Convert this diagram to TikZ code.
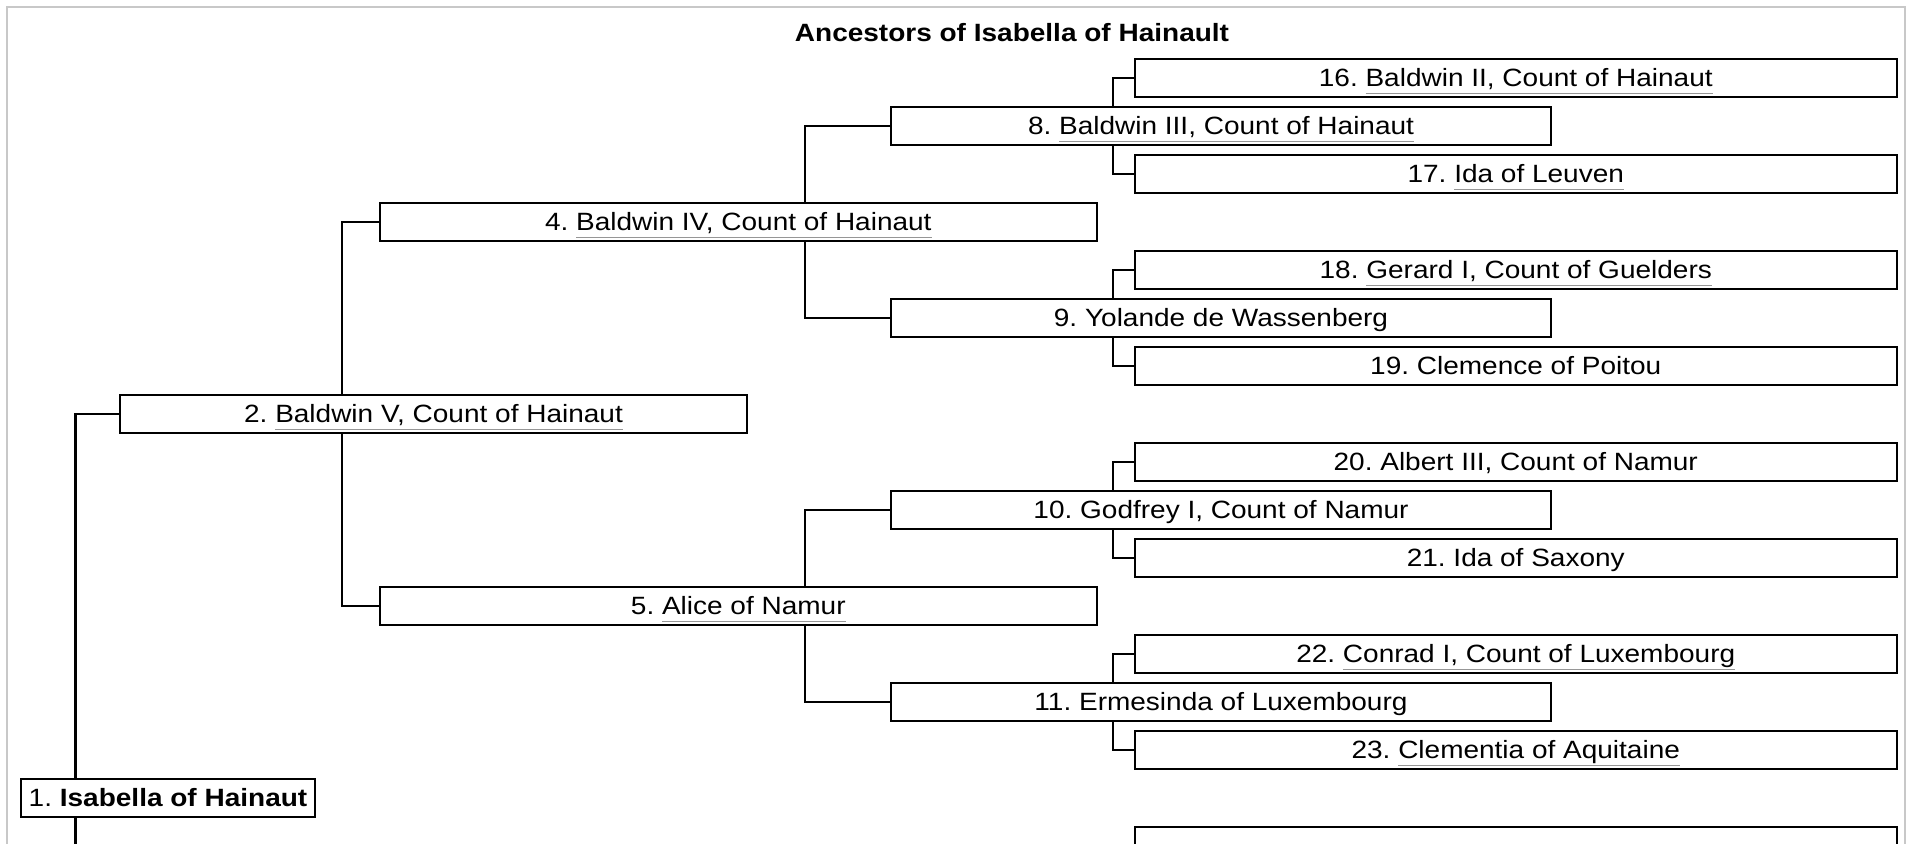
\documentclass[tikz,border=0pt]{standalone}
\usepackage{fontspec}
\setmainfont[FakeStretch=1.12]{Liberation Sans}
\frenchspacing

\definecolor{framegray}{RGB}{200,200,200}
\definecolor{linkgray}{RGB}{150,150,150}
\newcommand{\lnk}[1]{\setbox0=\hbox{#1}\rlap{\color{linkgray}\rule[-3.75pt]{\wd0}{0.75pt}}\box0}

\tikzset{
  pbox/.style={draw, line width=1.1pt, fill=white, inner sep=0pt, minimum height=19pt,
    text height=8.95pt, text depth=0pt, font=\fontsize{12.5}{15}\selectfont},
  gen1/.style={pbox, minimum width=313.5pt},
  gen2/.style={pbox, minimum width=358.7pt},
  gen3/.style={pbox, minimum width=330pt},
  gen4/.style={pbox, minimum width=381pt},
  link/.style={draw, line width=1.1pt},
}

\begin{document}
\begin{tikzpicture}[x=0.5pt,y=-0.5pt]
\useasboundingbox (0,0) rectangle (1907,844);
\clip (0,0) rectangle (1907,844);
\draw[framegray, line width=1pt] (7,7) rectangle (1905,1000);

\node[font=\bfseries\fontsize{12.5}{15}\selectfont, inner sep=0pt, text height=8.95pt, text depth=0pt] (title) at (1012,32.5) {Ancestors of Isabella of Hainault};

% where the lines turn
\coordinate (s1) at (75.5,798);
\coordinate (s2) at (341.6,414);
\coordinate (s4) at (804.6,222);
\coordinate (s5) at (804.6,606);
\coordinate (s8) at (1113.3,126);
\coordinate (s9) at (1113.3,318);
\coordinate (s10) at (1113.3,510);
\coordinate (s11) at (1113.3,702);
\coordinate (p3stub) at (75.5,900);

\node[pbox, minimum width=147pt] (p1) at (168,798) {1. \textbf{Isabella of Hainaut}};
\node[gen1] (p2) at (433.5,414) {2. \lnk{Baldwin V, Count of Hainaut}};

\node[gen2] (p4) at (738.3,222) {4. \lnk{Baldwin IV, Count of Hainaut}};
\node[gen2] (p5) at (738.3,606) {5. \lnk{Alice of Namur}};

\node[gen3] (p8) at (1221,126) {8. \lnk{Baldwin III, Count of Hainaut}};
\node[gen3] (p9) at (1221,318) {9. Yolande de Wassenberg};
\node[gen3] (p10) at (1221,510) {10. Godfrey I, Count of Namur};
\node[gen3] (p11) at (1221,702) {11. Ermesinda of Luxembourg};

\node[gen4] (p16) at (1515.75,78) {16. \lnk{Baldwin II, Count of Hainaut}};
\node[gen4] (p17) at (1515.75,174) {17. \lnk{Ida of Leuven}};
\node[gen4] (p18) at (1515.75,270) {18. \lnk{Gerard I, Count of Guelders}};
\node[gen4] (p19) at (1515.75,366) {19. Clemence of Poitou};
\node[gen4] (p20) at (1515.75,462) {20. Albert III, Count of Namur};
\node[gen4] (p21) at (1515.75,558) {21. Ida of Saxony};
\node[gen4] (p22) at (1515.75,654) {22. \lnk{Conrad I, Count of Luxembourg}};
\node[gen4] (p23) at (1515.75,750) {23. \lnk{Clementia of Aquitaine}};
\node[gen4] (p24) at (1515.75,846) {};

\draw[link] (s1 |- p1.north) |- (p2.west);
\draw[link] (s1 |- p1.south) -- (p3stub);

\draw[link] (s2 |- p2.north) |- (p4.west);
\draw[link] (s2 |- p2.south) |- (p5.west);

\draw[link] (s4 |- p4.north) |- (p8.west);
\draw[link] (s4 |- p4.south) |- (p9.west);
\draw[link] (s5 |- p5.north) |- (p10.west);
\draw[link] (s5 |- p5.south) |- (p11.west);

\draw[link] (s8 |- p8.north) |- (p16.west);
\draw[link] (s8 |- p8.south) |- (p17.west);
\draw[link] (s9 |- p9.north) |- (p18.west);
\draw[link] (s9 |- p9.south) |- (p19.west);
\draw[link] (s10 |- p10.north) |- (p20.west);
\draw[link] (s10 |- p10.south) |- (p21.west);
\draw[link] (s11 |- p11.north) |- (p22.west);
\draw[link] (s11 |- p11.south) |- (p23.west);
\end{tikzpicture}
\end{document}
